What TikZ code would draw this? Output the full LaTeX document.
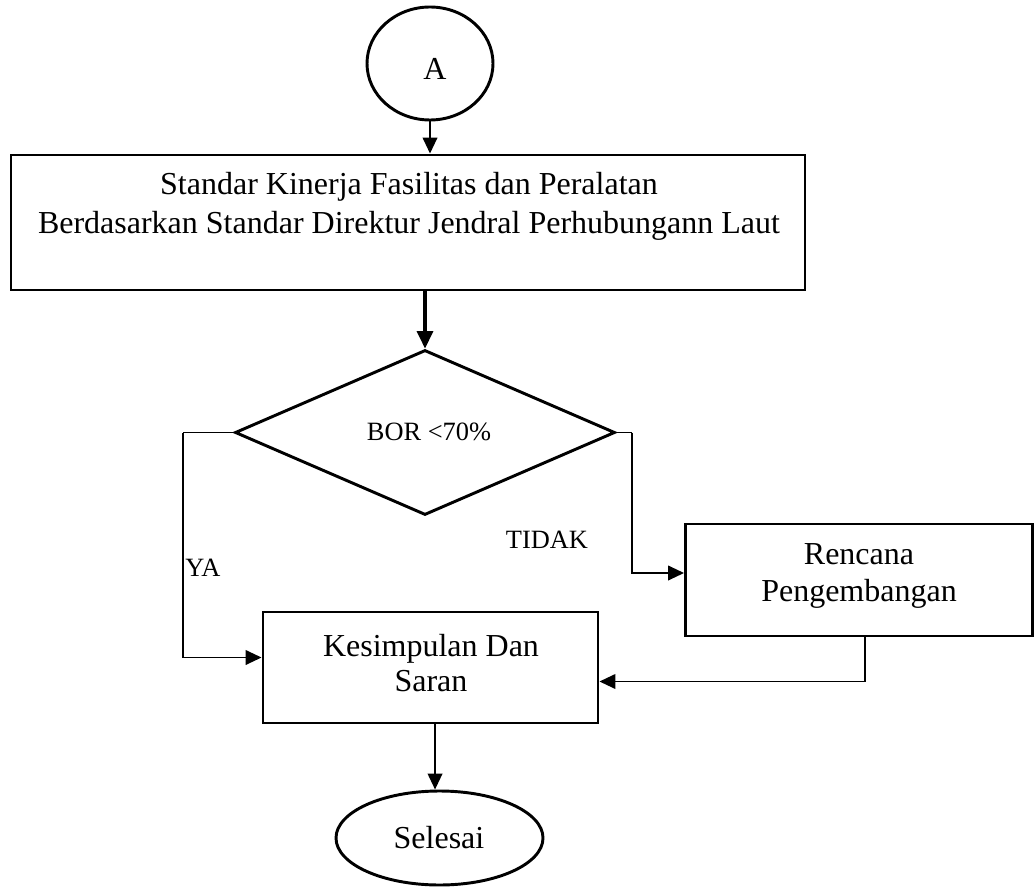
\documentclass[tikz,border=0pt]{standalone}
\usepackage{fontspec}
\setmainfont{Liberation Serif}
\usetikzlibrary{shapes.geometric,arrows.meta}
\tikzset{
  shapeline/.style={draw=black, line width=2.2pt, inner sep=0pt},
  boxnode/.style={shapeline, rectangle},
  termnode/.style={shapeline, ellipse},
  decnode/.style={shapeline, diamond},
  bigtext/.style={font=\fontsize{24pt}{28.5pt}\selectfont, align=center, inner sep=0pt},
  smalltext/.style={font=\fontsize{19.8pt}{23pt}\selectfont, inner sep=0pt},
  conn/.style={draw=black, line width=1.4pt, -{Triangle[length=12pt,width=11pt]}},
  thickconn/.style={draw=black, line width=2.4pt, -{Triangle[length=13pt,width=12pt]}},
  plainconn/.style={draw=black, line width=1.4pt}
}
\begin{document}
\begin{tikzpicture}[x=0.75pt,y=-0.75pt]
\useasboundingbox (0,0) rectangle (1034,887);

% shapes
\node[termnode, minimum width=94.5pt, minimum height=84.75pt] (A) at (430,63.5) {};
\node[boxnode, minimum width=595.5pt, minimum height=101.25pt] (main) at (408,222.5) {};
\node[decnode, minimum width=285pt, minimum height=123.75pt] (dia) at (425,432.5) {};
\node[boxnode, minimum width=260.25pt, minimum height=84pt] (ren) at (859,580) {};
\node[boxnode, minimum width=251.25pt, minimum height=83.25pt] (kes) at (430.5,667.5) {};
\node[termnode, minimum width=155.25pt, minimum height=70.5pt] (sel) at (439.5,838) {};

% texts
\node[bigtext] (Atext) at (435,68.5) {A};
\node[bigtext, font=\fontsize{24pt}{29.25pt}\selectfont] (maintext) at (409,206) {Standar Kinerja Fasilitas dan Peralatan\\Berdasarkan Standar Direktur Jendral Perhubungann Laut};
\node[smalltext] (diatext) at (429,432) {BOR <70\%};
\node[bigtext, font=\fontsize{24pt}{28pt}\selectfont] (rentext) at (859,576) {Rencana\\Pengembangan};
\node[bigtext, font=\fontsize{24pt}{26.5pt}\selectfont] (kestext) at (431,663) {Kesimpulan Dan\\Saran};
\node[bigtext] (seltext) at (439,838) {Selesai};
\node[smalltext, anchor=west] (ya) at (185,567.5) {YA};
\node[smalltext] (tidak) at (547,540) {TIDAK};

% connectors
\coordinate (yl) at (183,432.5);
\coordinate (tr) at (632,432.5);
\draw[conn] (A.south) -- (A.south |- main.north);
\draw[thickconn] (dia.north |- main.south) -- (dia.north);
\draw[plainconn] (dia.west) -- (yl);
\draw[conn] (yl) |- ([yshift=7.5pt]kes.west);
\draw[plainconn] (dia.east) -- (tr);
\draw[conn] (tr) |- ([yshift=5.25pt]ren.west);
\draw[conn] ([xshift=4.5pt]ren.south) |- ([yshift=-10.5pt]kes.east);
\draw[conn] ([xshift=3.4pt]kes.south) -- ([xshift=3.4pt]kes.south |- sel.north);
\end{tikzpicture}
\end{document}
